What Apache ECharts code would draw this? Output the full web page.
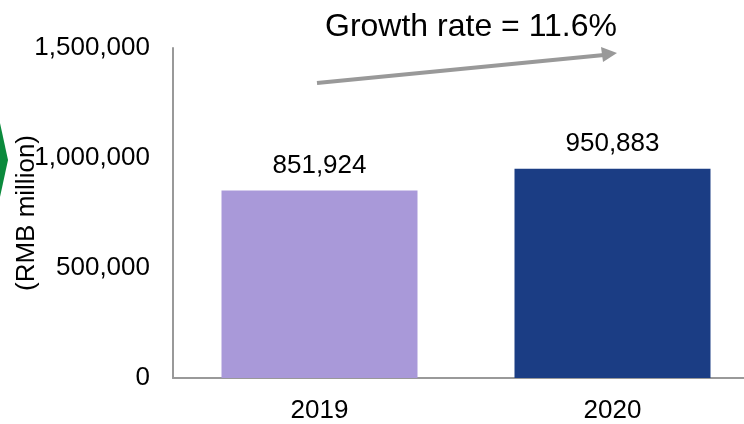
<!DOCTYPE html>
<html>
<head>
<meta charset="utf-8">
<script src="https://cdn.jsdelivr.net/npm/echarts@6/dist/echarts.min.js"></script>
<style>
  html, body { margin: 0; padding: 0; background: #fff; }
  #chart { width: 744px; height: 424px; }
</style>
</head>
<body>
<div id="chart"></div>
<script>
// data
const years = ["2019", "2020"];
const revenue = [851924, 950883];
const barColors = ["#A999D9", "#1B3D84"];
const yTicks = [0, 500000, 1000000, 1500000];
const growthText = "Growth rate = 11.6%";

const font = "Liberation Sans, Arial, sans-serif";
const fmt = (v) => v.toLocaleString("en-US");

const chartDom = document.getElementById("chart");
const myChart = echarts.init(chartDom);

const option = {
    animation: false,
    title: {
        text: growthText,
        left: 320,
        top: 6,
        textStyle: {
            fontFamily: font,
            fontSize: 32,
            fontWeight: "normal",
            color: "#000",
        },
    },
    grid: {
        left: 173,
        top: 48,
        bottom: 46,
        width: 586,
        containLabel: false,
        outerBoundsMode: "none",
    },
    xAxis: {
        type: "category",
        data: years,
        axisLine: { lineStyle: { color: "#999", width: 2 } },
        axisTick: { show: false },
        axisLabel: {
            margin: 20,
            fontFamily: font,
            fontSize: 26,
            color: "#000",
        },
    },
    yAxis: {
        type: "value",
        min: yTicks[0],
        max: yTicks[yTicks.length - 1],
        interval: 500000,
        name: "(RMB million)",
        nameLocation: "middle",
        nameGap: 133,
        nameMoveOverlap: false,
        nameTextStyle: {
            fontFamily: font,
            fontSize: 26,
            color: "#000",
        },
        axisLine: { show: true, lineStyle: { color: "#999", width: 2 } },
        axisTick: { show: false },
        splitLine: { show: false },
        axisLabel: {
            margin: 23,
            fontFamily: font,
            fontSize: 26,
            color: "#000",
            formatter: (v) => fmt(v),
        },
    },
    series: [
        {
            type: "bar",
            barWidth: 196,
            data: revenue.map((v, i) => ({
                value: v,
                itemStyle: { color: barColors[i] },
            })),
            label: {
                show: true,
                position: "top",
                distance: 12,
                fontFamily: font,
                fontSize: 26,
                color: "#000",
                formatter: (p) => fmt(p.value),
            },
        },
    ],
    graphic: [
        // green marker cut off on the left edge
        {
            type: "polygon",
            shape: { points: [[-6, 123], [0, 123], [8, 160], [0, 197], [-6, 197]] },
            style: { fill: "#0B8A3C" },
        },
        // growth arrow
        {
            type: "line",
            shape: { x1: 317, y1: 83, x2: 604, y2: 55 },
            style: { stroke: "#999", lineWidth: 4 },
        },
        {
            type: "polygon",
            shape: { points: [[601, 47], [617, 53], [603, 62]] },
            style: { fill: "#999" },
        },
    ],
};

myChart.setOption(option);
</script>
</body>
</html>
